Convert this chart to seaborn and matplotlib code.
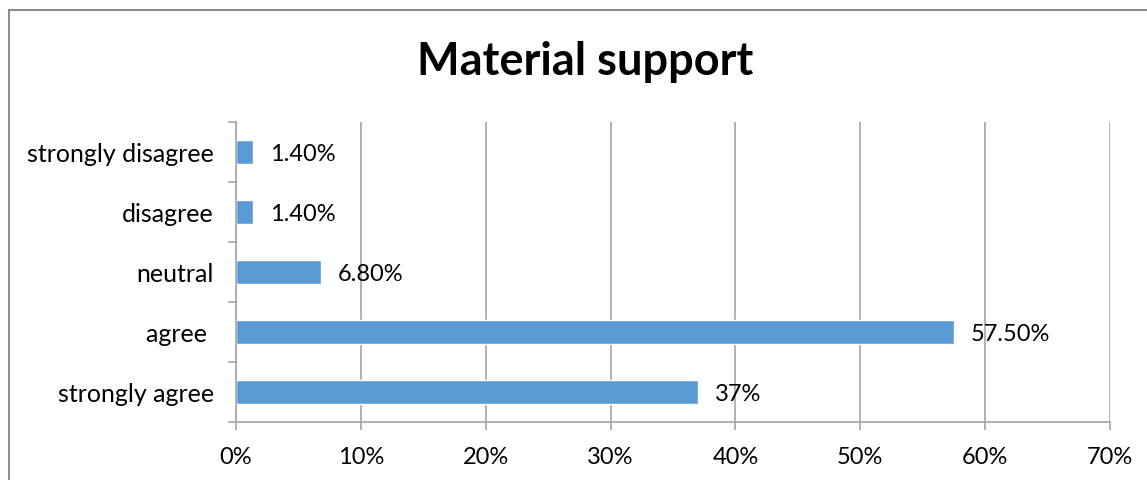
import matplotlib
matplotlib.use("Agg")
import matplotlib.pyplot as plt
import seaborn as sns
import pandas as pd
from matplotlib.patches import Rectangle
from matplotlib.ticker import FuncFormatter, MultipleLocator

categories = ["strongly disagree", "disagree", "neutral", "agree ", "strongly agree"]
values = [1.4, 1.4, 6.8, 57.5, 37.0]
labels = ["1.40%", "1.40%", "6.80%", "57.50%", "37%"]
title = "Material support"

sns.set_theme(style="white")
plt.rcParams['font.family'] = ['Lato', 'DejaVu Sans']

df = pd.DataFrame({"category": categories, "value": values})

fig = plt.figure(figsize=(11.47, 4.8), dpi=100)
ax = fig.add_axes([236/1147, 1-422/480, (1110-236)/1147, 300/480])

sns.barplot(data=df, x="value", y="category", order=categories, color="#5B9BD5",
            saturation=1, width=0.4, ax=ax)

ax.set_xlim(0, 70)
ax.xaxis.set_major_locator(MultipleLocator(10))
ax.xaxis.set_major_formatter(FuncFormatter(lambda v, p: f"{int(round(v))}%"))
ax.grid(axis="x", color="#A6A6A6", linewidth=1.2)
ax.set_axisbelow(True)
ax.set_xlabel("")
ax.set_ylabel("")

for s in ["top", "right"]:
    ax.spines[s].set_visible(False)
for s in ["left", "bottom"]:
    ax.spines[s].set_color("#A6A6A6")
    ax.spines[s].set_linewidth(1.2)

# y ticks at category boundaries (Excel style)
ax.set_yticks([i - 0.5 for i in range(len(categories) + 1)], minor=True)
ax.tick_params(axis="y", which="minor", length=6, color="#A6A6A6", width=1.2, left=True)
ax.tick_params(axis="y", which="major", length=0, pad=16, labelsize=18, labelcolor="black")
ax.tick_params(axis="x", which="major", length=6, color="#A6A6A6", width=1.2, bottom=True,
               pad=12, labelsize=17, labelcolor="black")
ax.set_ylim(len(categories) - 0.5, -0.5)

for i, (v, lab) in enumerate(zip(values, labels)):
    ax.annotate(lab, xy=(v, i), xytext=(12, -2), textcoords="offset points",
                va="center", ha="left", fontsize=17, color="black")

fig.text(585/1147, 1-62/480, title, ha="center", va="center", fontsize=32.5,
         fontweight="bold", color="black")

fig.patches.append(Rectangle((9/1147, -0.1), 2, 1 - 10/480 + 0.1, transform=fig.transFigure,
                             fill=False, edgecolor="#8C8C8C", linewidth=1.5))

fig.savefig("out.png", dpi=100)
